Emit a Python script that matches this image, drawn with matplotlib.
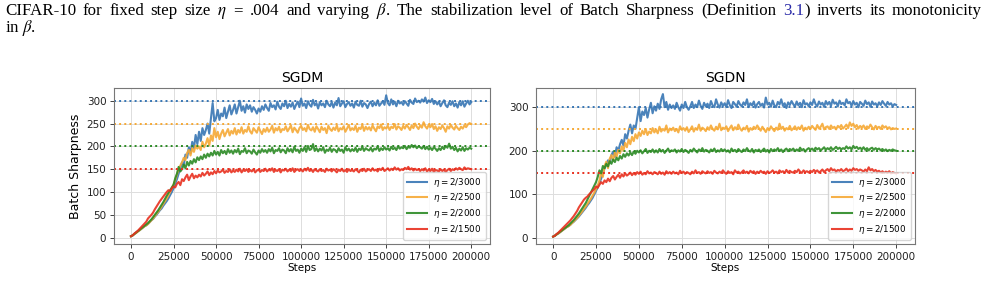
import numpy as np
import matplotlib
matplotlib.use('Agg')
import matplotlib.pyplot as plt

# Step grid (every 1000 steps)
steps = np.arange(0, 200001, 1000)

labels = [r'$\eta = 2/3000$', r'$\eta = 2/2500$', r'$\eta = 2/2000$', r'$\eta = 2/1500$']
colors = ['#3776b4', '#f6a935', '#2b8a24', '#e8301f']
thresholds = [300, 250, 200, 150]

# ---- SGDM ----
sgdm_3000 = [3, 5, 8, 11, 14, 16, 19, 22, 25, 27,
             30, 34, 38, 41, 46, 50, 55, 60, 64, 70,
             75, 80, 86, 93, 100, 108, 118, 128, 140, 152,
             165, 158, 182, 175, 198, 185, 210, 196, 225, 205,
             232, 212, 240, 225, 236, 250, 228, 262, 295, 255,
             262, 280, 258, 272, 266, 285, 262, 276, 290, 270,
             280, 292, 272, 286, 300, 278, 288, 274, 292, 282,
             290, 276, 286, 280, 272, 283, 276, 288, 280, 292,
             284, 278, 295, 286, 290, 281, 298, 287, 282, 294,
             288, 300, 284, 293, 287, 296, 282, 291, 298, 286,
             305, 289, 294, 284, 299, 291, 287, 302, 290, 295,
             283, 297, 290, 294, 286, 300, 292, 288, 297, 285,
             296, 290, 306, 288, 294, 299, 286, 293, 297, 289,
             294, 285, 298, 291, 289, 300, 287, 295, 292, 284,
             293, 298, 288, 296, 290, 301, 289, 294, 299, 291,
             312, 295, 290, 303, 292, 298, 288, 300, 294, 297,
             291, 299, 294, 289, 302, 296, 293, 305, 297, 300,
             296, 303, 298, 307, 295, 301, 297, 304, 293, 299,
             292, 298, 288, 295, 301, 290, 286, 296, 291, 299,
             288, 294, 285, 297, 290, 299, 287, 294, 300, 292,
             297]
sgdm_2500 = [3, 5, 8, 10, 13, 16, 19, 22, 25, 27,
             30, 34, 38, 42, 47, 52, 57, 62, 68, 74,
             80, 86, 93, 100, 108, 116, 126, 138, 150, 158,
             165, 175, 170, 186, 192, 180, 196, 188, 202, 195,
             200, 192, 210, 198, 206, 218, 202, 224, 212, 240,
             220, 232, 216, 228, 236, 222, 230, 238, 224, 234,
             228, 240, 226, 236, 230, 242, 228, 236, 232, 244,
             233, 228, 240, 235, 230, 242, 234, 227, 238, 232,
             241, 232, 237, 245, 230, 240, 235, 243, 231, 238,
             236, 244, 233, 239, 246, 231, 241, 236, 230, 240,
             245, 236, 240, 233, 247, 238, 235, 242, 232, 244,
             238, 231, 243, 236, 240, 229, 245, 238, 234, 241,
             236, 246, 233, 240, 237, 244, 232, 239, 247, 235,
             240, 236, 245, 232, 241, 238, 247, 234, 243, 237,
             242, 235, 246, 239, 233, 244, 240, 248, 236, 242,
             239, 245, 236, 243, 240, 249, 237, 244, 241, 236,
             245, 239, 247, 242, 236, 246, 240, 250, 243, 238,
             246, 241, 253, 244, 239, 247, 242, 249, 238, 244,
             234, 242, 238, 246, 240, 232, 244, 239, 247, 241,
             237, 245, 240, 236, 243, 239, 246, 242, 248, 251,
             249]
sgdm_2000 = [3, 5, 8, 11, 14, 17, 20, 23, 26, 29,
             32, 36, 40, 45, 50, 55, 60, 66, 72, 78,
             85, 92, 98, 104, 110, 116, 130, 140, 155, 145,
             150, 160, 152, 166, 158, 168, 162, 172, 165, 176,
             170, 178, 172, 182, 175, 184, 178, 186, 180, 190,
             182, 188, 180, 192, 185, 190, 183, 194, 186, 191,
             184, 192, 187, 195, 183, 190, 188, 196, 185, 191,
             189, 184, 193, 187, 182, 191, 186, 194, 188, 192,
             186, 194, 189, 197, 185, 192, 190, 196, 187, 193,
             191, 185, 196, 189, 194, 187, 199, 190, 193, 186,
             195, 190, 198, 188, 201, 192, 194, 205, 190, 196,
             189, 195, 191, 198, 186, 193, 190, 197, 188, 194,
             192, 187, 196, 190, 193, 186, 198, 191, 195, 189,
             194, 190, 197, 188, 195, 192, 199, 190, 196, 193,
             191, 197, 189, 195, 193, 200, 190, 196, 192, 198,
             193, 196, 191, 199, 194, 197, 192, 200, 195, 198,
             196, 201, 194, 199, 197, 203, 198, 202, 196, 200,
             198, 195, 201, 194, 199, 193, 197, 192, 198, 195,
             190, 196, 192, 199, 194, 201, 197, 206, 195, 199,
             192, 197, 189, 195, 191, 198, 190, 196, 193, 197,
             195]
sgdm_1500 = [3, 5, 9, 12, 15, 19, 23, 27, 31, 35,
             42, 46, 50, 55, 62, 68, 74, 80, 85, 90,
             95, 100, 104, 102, 108, 112, 110, 118, 122, 115,
             128, 124, 132, 138, 126, 134, 140, 130, 136, 132,
             138, 134, 142, 136, 140, 145, 137, 143, 139, 146,
             141, 147, 143, 145, 149, 142, 146, 144, 150, 143,
             147, 144, 149, 145, 151, 143, 148, 146, 150, 144,
             148, 145, 150, 143, 147, 149, 144, 148, 146, 151,
             145, 149, 147, 152, 144, 148, 146, 150, 143, 149,
             147, 151, 145, 149, 146, 152, 144, 148, 150, 146,
             149, 145, 151, 147, 153, 146, 149, 144, 150, 147,
             145, 150, 146, 148, 144, 151, 147, 149, 145, 150,
             147, 143, 149, 146, 151, 145, 148, 144, 150, 146,
             148, 145, 150, 147, 143, 149, 146, 151, 145, 148,
             150, 146, 152, 147, 149, 145, 151, 148, 153, 146,
             149, 152, 147, 151, 148, 154, 149, 152, 147, 150,
             148, 153, 150, 155, 149, 152, 147, 151, 148, 150,
             146, 150, 147, 152, 145, 149, 146, 151, 144, 148,
             147, 145, 150, 146, 149, 144, 148, 151, 146, 150,
             148, 152, 149, 153, 150, 148, 154, 150, 152, 151,
             150]

# ---- SGDN ----
sgdn_3000 = [3, 5, 8, 10, 13, 16, 19, 22, 25, 27,
             30, 34, 37, 41, 45, 49, 54, 59, 64, 69,
             75, 80, 86, 92, 100, 108, 116, 126, 136, 148,
             160, 168, 178, 172, 190, 198, 186, 208, 200, 215,
             225, 212, 238, 228, 246, 260, 240, 258, 250, 275,
             300, 268, 290, 282, 298, 276, 295, 310, 286, 302,
             292, 308, 296, 318, 330, 300, 312, 294, 306, 298,
             304, 296, 310, 300, 292, 306, 298, 312, 300, 294,
             302, 312, 298, 306, 300, 315, 303, 296, 310, 302,
             308, 298, 314, 304, 300, 318, 306, 299, 311, 303,
             309, 300, 316, 305, 298, 312, 307, 301, 314, 306,
             302, 311, 305, 318, 300, 309, 304, 313, 299, 307,
             312, 303, 308, 299, 322, 306, 310, 301, 315, 304,
             300, 312, 306, 318, 303, 309, 298, 311, 305, 314,
             307, 301, 313, 304, 310, 300, 316, 306, 309, 302,
             311, 305, 318, 307, 302, 313, 306, 310, 301, 314,
             306, 312, 303, 317, 308, 311, 302, 315, 307, 310,
             304, 318, 309, 312, 303, 314, 306, 310, 300, 312,
             308, 303, 315, 307, 311, 301, 313, 306, 309, 302,
             311, 305, 314, 308, 303, 312, 306, 309, 302, 307,
             305]
sgdn_2500 = [3, 5, 8, 10, 13, 16, 19, 22, 25, 27,
             30, 34, 38, 42, 46, 51, 56, 61, 67, 72,
             78, 84, 90, 97, 104, 112, 120, 132, 150, 140,
             165, 175, 160, 182, 190, 178, 196, 186, 202, 194,
             210, 200, 218, 208, 226, 215, 232, 222, 238, 228,
             242, 234, 246, 238, 250, 236, 244, 240, 252, 242,
             248, 240, 255, 244, 250, 246, 258, 242, 251, 247,
             253, 245, 250, 242, 256, 248, 252, 246, 254, 243,
             249, 256, 244, 252, 248, 260, 246, 253, 250, 245,
             254, 248, 258, 250, 246, 255, 249, 262, 247, 253,
             250, 256, 245, 252, 258, 247, 254, 249, 260, 251,
             246, 253, 249, 257, 244, 252, 248, 255, 250, 258,
             252, 246, 255, 249, 243, 252, 247, 256, 250, 245,
             253, 248, 262, 250, 255, 246, 252, 249, 257, 247,
             251, 256, 248, 254, 250, 258, 246, 253, 249, 255,
             250, 257, 252, 248, 259, 251, 255, 262, 249, 254,
             256, 250, 258, 252, 255, 249, 257, 253, 259, 251,
             255, 260, 252, 265, 257, 262, 254, 259, 251, 257,
             253, 258, 250, 256, 252, 260, 254, 249, 257, 252,
             255, 250, 258, 253, 256, 251, 254, 249, 252, 250,
             251]
sgdn_2000 = [3, 5, 8, 11, 14, 17, 20, 23, 26, 29,
             33, 37, 41, 46, 51, 56, 62, 68, 74, 80,
             88, 96, 104, 112, 120, 128, 140, 155, 148, 165,
             160, 170, 164, 176, 170, 180, 174, 184, 178, 188,
             182, 192, 186, 194, 189, 196, 190, 198, 193, 200,
             196, 201, 194, 199, 204, 195, 200, 197, 203, 196,
             201, 196, 204, 198, 202, 195, 200, 205, 197, 201,
             199, 203, 196, 201, 198, 204, 197, 202, 199, 195,
             202, 198, 205, 200, 196, 203, 199, 206, 198, 202,
             200, 196, 203, 199, 205, 197, 201, 198, 204, 199,
             203, 198, 201, 196, 205, 199, 202, 197, 204, 200,
             197, 203, 199, 206, 200, 198, 204, 196, 202, 199,
             203, 197, 201, 205, 198, 202, 196, 204, 199, 203,
             200, 206, 199, 203, 197, 202, 205, 199, 204, 201,
             205, 199, 203, 200, 207, 201, 204, 198, 203, 206,
             202, 205, 200, 207, 203, 206, 201, 204, 208, 202,
             206, 203, 208, 202, 205, 209, 204, 207, 203, 206,
             204, 210, 205, 208, 203, 211, 206, 209, 204, 207,
             203, 208, 202, 206, 201, 205, 207, 202, 206, 203,
             205, 201, 204, 200, 203, 199, 202, 200, 203, 201,
             200]
sgdn_1500 = [3, 5, 9, 12, 16, 20, 24, 28, 32, 36,
             40, 45, 50, 56, 62, 70, 76, 82, 88, 92,
             95, 100, 104, 108, 112, 118, 115, 122, 128, 124,
             132, 128, 136, 130, 138, 142, 134, 140, 145, 138,
             146, 141, 148, 143, 146, 150, 144, 149, 145, 151,
             147, 152, 145, 149, 146, 153, 148, 150, 146, 151,
             149, 146, 152, 147, 150, 145, 153, 148, 151, 147,
             152, 148, 150, 146, 154, 149, 152, 147, 151, 149,
             146, 152, 148, 155, 149, 151, 147, 153, 150, 148,
             153, 149, 151, 147, 154, 150, 148, 152, 149, 155,
             150, 147, 153, 149, 151, 146, 155, 150, 152, 148,
             151, 155, 149, 152, 148, 154, 150, 153, 147, 152,
             149, 154, 150, 152, 147, 153, 149, 151, 155, 150,
             152, 148, 155, 151, 153, 149, 156, 150, 154, 151,
             150, 154, 151, 157, 152, 149, 155, 151, 153, 150,
             154, 151, 156, 152, 155, 150, 153, 157, 151, 155,
             158, 153, 160, 155, 157, 152, 156, 154, 158, 153,
             155, 159, 153, 157, 154, 160, 156, 158, 154, 157,
             155, 152, 157, 153, 162, 155, 158, 153, 156, 152,
             154, 150, 153, 149, 152, 150, 153, 148, 151, 149,
             148]

panels = [
    ('SGDM', [sgdm_3000, sgdm_2500, sgdm_2000, sgdm_1500], (-14, 328), np.arange(0, 301, 50)),
    ('SGDN', [sgdn_3000, sgdn_2500, sgdn_2000, sgdn_1500], (-14, 344), np.arange(0, 301, 100)),
]

fig = plt.figure(figsize=(9.86, 2.9), dpi=100)
axes_rects = [[0.1156, 0.1586, 0.3813, 0.538], [0.5436, 0.1586, 0.3844, 0.538]]

for rect, (title, series, ylim, yticks) in zip(axes_rects, panels):
    ax = fig.add_axes(rect)
    for vals, lab, col in zip(series, labels, colors):
        ax.plot(steps, vals, color=col, lw=1.5, alpha=0.9, label=lab)
    for thr, col in zip(thresholds, colors):
        ax.axhline(thr, color=col, ls=':', lw=1.4)
    ax.set_xlim(-10000, 211000)
    ax.set_ylim(*ylim)
    ax.set_yticks(yticks)
    ax.set_xticks(np.arange(0, 200001, 25000))
    ax.grid(True, color='#dddddd', lw=0.7)
    ax.set_axisbelow(True)
    ax.tick_params(labelsize=7.5, colors='#222222', length=3, width=0.6, pad=2.5)
    for sp in ax.spines.values():
        sp.set_color('#777777')
        sp.set_linewidth(0.8)
    ax.set_title(title, fontsize=10, pad=4)
    ax.set_xlabel('Steps', fontsize=7.5, labelpad=1)
    if title == 'SGDM':
        ax.set_ylabel('Batch Sharpness', fontsize=9, labelpad=3)
    ax.legend(loc='lower right', fontsize=6.3, frameon=True, edgecolor='#cccccc',
              handlelength=2.3, borderpad=0.45, labelspacing=0.3, handletextpad=0.7)

# Caption text above the panels, justified across the page width
W = fig.get_figwidth() * fig.dpi
H = fig.get_figheight() * fig.dpi
renderer = fig.canvas.get_renderer()
cap_size = 12.2
cap_kw = dict(fontsize=cap_size, family='Liberation Serif', math_fontfamily='stix', va='baseline')

line1 = ('CIFAR-10 for fixed step size $\\eta$ = .004 and varying $\\beta$. The stabilization '
         'level of Batch Sharpness (Definition').split(' ')
groups = [[(w, 'black')] for w in line1]
groups.append([('3.1', '#2a2aa8'), (')', 'black')])
groups += [[(w, 'black')] for w in ['inverts', 'its', 'monotonicity']]

left, right = 5, 982
texts = []
total = 0
for g in groups:
    gw = 0
    items = []
    for seg, col in g:
        t = fig.text(0, 1 - 15 / H, seg, color=col, **cap_kw)
        w = t.get_window_extent(renderer).width
        items.append((t, gw))
        gw += w
    texts.append((items, gw))
    total += gw
gap = (right - left - total) / (len(groups) - 1)
x = left
for items, gw in texts:
    for t, off in items:
        t.set_x((x + off) / W)
    x += gw + gap

fig.text(left / W, 1 - 32 / H, 'in $\\beta$.', **cap_kw)

fig.savefig('out.png', dpi=100)
